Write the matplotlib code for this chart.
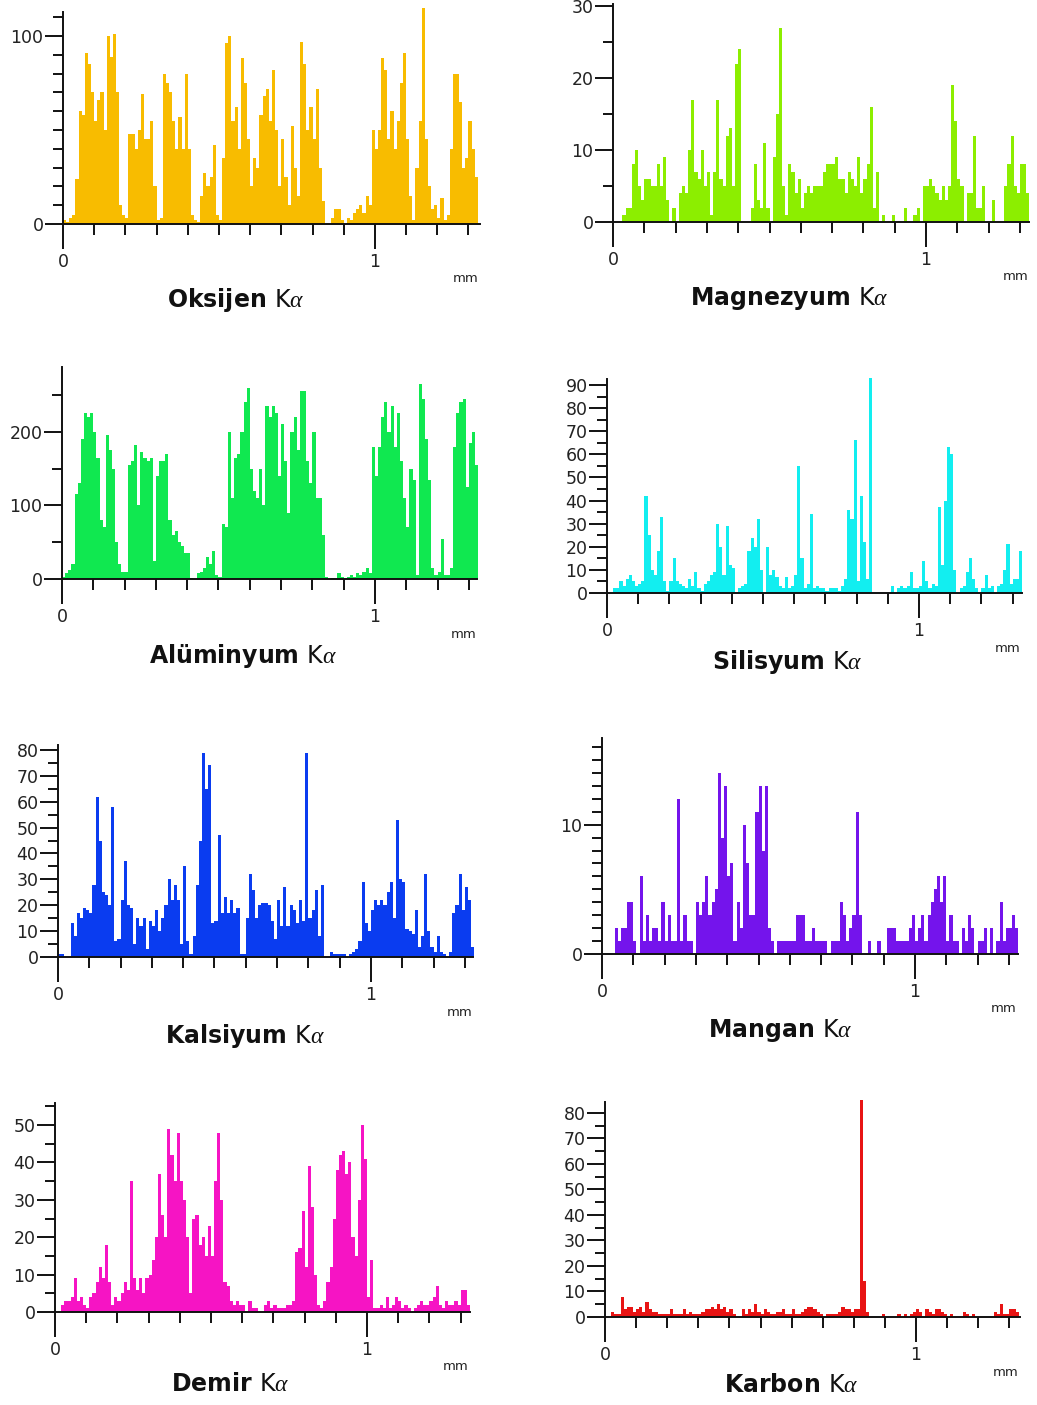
import matplotlib
matplotlib.use("Agg")
import matplotlib.pyplot as plt
import numpy as np
from matplotlib.ticker import MultipleLocator, FixedLocator

plt.rcParams["font.family"] = ["DejaVu Sans"]
plt.rcParams["mathtext.fontset"] = "custom"
plt.rcParams["mathtext.rm"] = "DejaVu Sans"
plt.rcParams["mathtext.it"] = "Liberation Serif:italic"

# line-scan counts, one value per 0.01 mm step
bin_width = 0.01

oksijen = [2, 1, 3, 5, 24, 60, 58, 91, 85, 70,
           55, 66, 70, 50, 100, 89, 101, 70, 10, 5,
           3, 48, 48, 40, 50, 69, 45, 45, 55, 20,
           2, 3, 80, 75, 70, 55, 40, 57, 40, 80,
           40, 5, 2, 1, 15, 27, 20, 25, 42, 5,
           2, 35, 96, 100, 55, 62, 40, 88, 75, 45,
           20, 35, 30, 58, 68, 72, 55, 82, 50, 20,
           45, 25, 10, 52, 30, 15, 97, 85, 50, 62,
           45, 72, 30, 12, 0, 0, 3, 8, 8, 2,
           0, 3, 2, 6, 8, 10, 6, 15, 10, 50,
           40, 50, 88, 82, 45, 60, 40, 55, 75, 91,
           45, 15, 2, 30, 55, 115, 45, 20, 8, 10,
           3, 14, 2, 5, 40, 80, 80, 65, 30, 35,
           55, 40, 25]

magnezyum = [0, 0, 0, 1, 2, 2, 8, 10, 5, 3,
             6, 6, 5, 5, 8, 5, 9, 3, 0, 2,
             0, 4, 5, 4, 10, 17, 7, 6, 10, 5,
             7, 1, 7, 17, 6, 5, 12, 13, 5, 22,
             24, 0, 0, 0, 2, 8, 3, 2, 11, 2,
             0, 9, 15, 27, 5, 1, 8, 7, 4, 6,
             2, 4, 5, 4, 5, 5, 5, 7, 8, 8,
             8, 9, 6, 6, 4, 7, 6, 5, 9, 4,
             6, 8, 16, 2, 7, 0, 1, 0, 0, 1,
             0, 0, 0, 2, 0, 0, 1, 2, 0, 5,
             5, 6, 5, 4, 3, 5, 3, 5, 19, 14,
             6, 5, 0, 4, 4, 12, 2, 2, 5, 0,
             0, 3, 0, 0, 0, 5, 8, 12, 5, 4,
             8, 8, 4]

aluminyum = [3, 8, 12, 20, 116, 130, 190, 225, 220, 225,
             200, 165, 80, 70, 195, 175, 150, 50, 20, 10,
             10, 155, 160, 182, 100, 172, 165, 160, 165, 25,
             140, 160, 160, 170, 80, 60, 65, 50, 45, 35,
             35, 2, 0, 8, 10, 15, 30, 20, 38, 5,
             3, 75, 70, 200, 110, 165, 170, 200, 240, 260,
             150, 120, 110, 150, 100, 235, 220, 235, 225, 140,
             210, 160, 90, 200, 220, 175, 255, 255, 160, 130,
             200, 110, 110, 60, 3, 0, 2, 2, 8, 3,
             2, 3, 5, 3, 8, 5, 10, 15, 8, 180,
             140, 180, 220, 240, 200, 235, 180, 225, 160, 110,
             70, 150, 135, 5, 265, 245, 190, 135, 15, 5,
             10, 55, 5, 5, 15, 180, 225, 240, 245, 125,
             185, 200, 155]

silisyum = [0, 0, 2, 2, 5, 3, 6, 8, 5, 3,
            4, 5, 42, 25, 10, 8, 18, 33, 5, 1,
            5, 15, 5, 4, 3, 2, 6, 3, 9, 2,
            1, 4, 5, 8, 9, 30, 20, 8, 29, 12,
            11, 0, 2, 3, 4, 18, 24, 20, 32, 10,
            0, 20, 8, 10, 7, 3, 2, 7, 2, 3,
            8, 55, 15, 2, 4, 34, 2, 3, 2, 2,
            1, 2, 2, 2, 1, 3, 6, 36, 32, 66,
            5, 42, 22, 6, 93, 0, 0, 0, 0, 0,
            0, 3, 0, 2, 3, 2, 3, 9, 2, 2,
            3, 14, 5, 2, 4, 3, 37, 12, 40, 63,
            60, 10, 0, 2, 3, 9, 15, 6, 2, 0,
            2, 8, 2, 3, 0, 3, 4, 10, 21, 4,
            6, 6, 18]

kalsiyum = [1, 1, 0, 0, 13, 8, 17, 15, 19, 18,
            17, 28, 62, 45, 25, 24, 20, 58, 6, 7,
            22, 37, 20, 19, 5, 15, 12, 15, 3, 14,
            12, 18, 10, 15, 20, 30, 22, 28, 22, 5,
            35, 6, 1, 8, 28, 45, 79, 65, 74, 13,
            14, 47, 17, 23, 17, 22, 17, 19, 1, 1,
            15, 32, 26, 15, 20, 21, 21, 20, 14, 7,
            22, 12, 27, 12, 20, 18, 13, 22, 14, 79,
            15, 18, 26, 8, 28, 0, 0, 2, 1, 1,
            1, 1, 0, 1, 2, 3, 6, 29, 13, 10,
            18, 22, 20, 22, 20, 25, 29, 15, 53, 30,
            29, 11, 10, 9, 18, 4, 8, 32, 10, 4,
            2, 8, 2, 1, 0, 2, 17, 20, 32, 18,
            27, 22, 4]

mangan = [0, 0, 0, 0, 2, 1, 2, 2, 4, 4,
          1, 0, 6, 1, 3, 1, 2, 2, 1, 4,
          1, 3, 1, 1, 12, 1, 3, 1, 1, 0,
          4, 3, 4, 6, 3, 4, 5, 14, 9, 13,
          6, 7, 1, 4, 2, 10, 7, 3, 3, 11,
          13, 8, 13, 2, 1, 0, 1, 1, 1, 1,
          1, 1, 3, 3, 3, 1, 1, 2, 1, 1,
          1, 1, 0, 1, 1, 1, 4, 3, 1, 2,
          3, 11, 3, 0, 0, 1, 0, 0, 1, 0,
          0, 2, 2, 2, 1, 1, 1, 1, 2, 3,
          1, 2, 3, 1, 3, 4, 5, 6, 4, 6,
          1, 3, 1, 1, 0, 2, 1, 3, 2, 0,
          1, 1, 2, 0, 2, 0, 1, 4, 1, 2,
          2, 3, 2]

demir = [0, 0, 2, 3, 3, 4, 9, 3, 4, 2,
         1, 4, 5, 8, 12, 9, 18, 8, 2, 4,
         3, 5, 8, 6, 35, 9, 6, 9, 5, 9,
         10, 14, 20, 37, 26, 20, 49, 42, 35, 48,
         35, 30, 20, 5, 25, 26, 18, 20, 15, 23,
         15, 35, 48, 30, 8, 7, 3, 2, 3, 2,
         2, 0, 3, 1, 1, 0, 0, 2, 3, 1,
         2, 1, 1, 1, 2, 2, 3, 16, 17, 27,
         12, 39, 28, 10, 2, 1, 3, 8, 12, 25,
         38, 42, 43, 37, 40, 20, 15, 30, 50, 41,
         4, 14, 1, 1, 2, 1, 4, 1, 2, 4,
         3, 1, 2, 1, 0, 1, 2, 3, 2, 2,
         3, 4, 7, 2, 1, 3, 2, 2, 3, 2,
         6, 6, 2]

karbon = [0, 0, 2, 1, 1, 8, 3, 4, 4, 2,
          3, 4, 2, 6, 3, 2, 2, 1, 1, 1,
          1, 3, 1, 1, 1, 3, 1, 2, 1, 1,
          1, 2, 3, 3, 4, 3, 5, 3, 4, 2,
          3, 1, 0, 0, 3, 1, 3, 2, 5, 2,
          1, 3, 2, 1, 1, 2, 2, 3, 1, 1,
          3, 1, 1, 2, 3, 4, 4, 3, 2, 1,
          0, 1, 1, 1, 1, 2, 4, 3, 3, 2,
          3, 3, 85, 14, 2, 0, 0, 0, 0, 1,
          0, 0, 0, 0, 1, 0, 1, 0, 1, 2,
          3, 2, 0, 3, 2, 1, 3, 3, 2, 1,
          0, 1, 0, 0, 0, 2, 1, 0, 1, 0,
          0, 0, 0, 0, 0, 2, 1, 5, 1, 1,
          3, 3, 2]

names = ["Oksijen", "Magnezyum", "Alüminyum", "Silisyum",
         "Kalsiyum", "Mangan", "Demir", "Karbon"]
series = [oksijen, magnezyum, aluminyum, silisyum,
          kalsiyum, mangan, demir, karbon]
colors = ["#F8BC00", "#8CEE00", "#10E850", "#12EEF0",
          "#0A3CF0", "#7414EC", "#F614C4", "#E81414"]

# y axis ticks: (major step, minor step)
y_steps = [(100, 10), (10, 5), (100, 50), (10, 5),
           (10, 5), (10, 1), (10, 5), (10, 5)]

# layout in pixels: left, right, baseline, top, xmax, ymax, title x, title y
W, H = 1037, 1405
layout = [
    (63, 480, 224, 12, 1.337, 112.7, 236, 300),
    (613, 1029, 222, 4, 1.329, 30.3, 789, 298),
    (62, 477, 579, 367, 1.326, 288, 243, 656),
    (607, 1022, 593, 379, 1.330, 92.6, 787, 662),
    (58, 473, 957, 745, 1.326, 81.9, 245, 1036),
    (602, 1018, 954, 738, 1.329, 16.7, 780, 1030),
    (55, 470, 1312, 1103, 1.330, 55.9, 230, 1384),
    (605, 1020, 1317, 1102, 1.334, 84.3, 791, 1385),
]

fig = plt.figure(figsize=(W / 100, H / 100), dpi=100)

for name, vals, col, (ymaj, ymin), lay in zip(names, series, colors, y_steps, layout):
    left, right, base, top, xmax, ymax, tx, ty = lay
    ax = fig.add_axes([left / W, 1 - base / H, (right - left) / W, (base - top) / H])
    x = np.arange(len(vals)) * bin_width
    ax.bar(x, vals, width=bin_width, align="edge", color=col,
           linewidth=0, clip_on=False, zorder=1)
    ax.set_xlim(0, xmax)
    ax.set_ylim(0, ymax)

    for s in ["top", "right"]:
        ax.spines[s].set_visible(False)
    for s in ["left", "bottom"]:
        ax.spines[s].set_linewidth(1.4)
        ax.spines[s].set_color("#111111")
        ax.spines[s].set_zorder(3)

    ax.xaxis.set_major_locator(FixedLocator([0, 1]))
    ax.xaxis.set_minor_locator(MultipleLocator(0.1))
    ax.yaxis.set_major_locator(MultipleLocator(ymaj))
    ax.yaxis.set_minor_locator(MultipleLocator(ymin))
    ax.set_xticklabels(["0", "1"])

    ax.tick_params(axis="both", which="both", color="#111111", width=1.4,
                   labelcolor="#222222", labelsize=12.5)
    ax.tick_params(axis="y", which="major", length=13, pad=1)
    ax.tick_params(axis="y", which="minor", length=7)
    ax.tick_params(axis="x", which="major", length=18, pad=3)
    ax.tick_params(axis="x", which="minor", length=8)

    fig.text((right - 1) / W, 1 - (base + 55) / H, "mm", ha="right", va="center",
             fontsize=9.5, color="#222222")
    fig.text(tx / W, 1 - ty / H, name + r" $\mathrm{K}\alpha$", ha="center",
             va="center", fontsize=17, fontweight="bold", color="#111111")

fig.savefig("out.png", dpi=100, facecolor="white")
